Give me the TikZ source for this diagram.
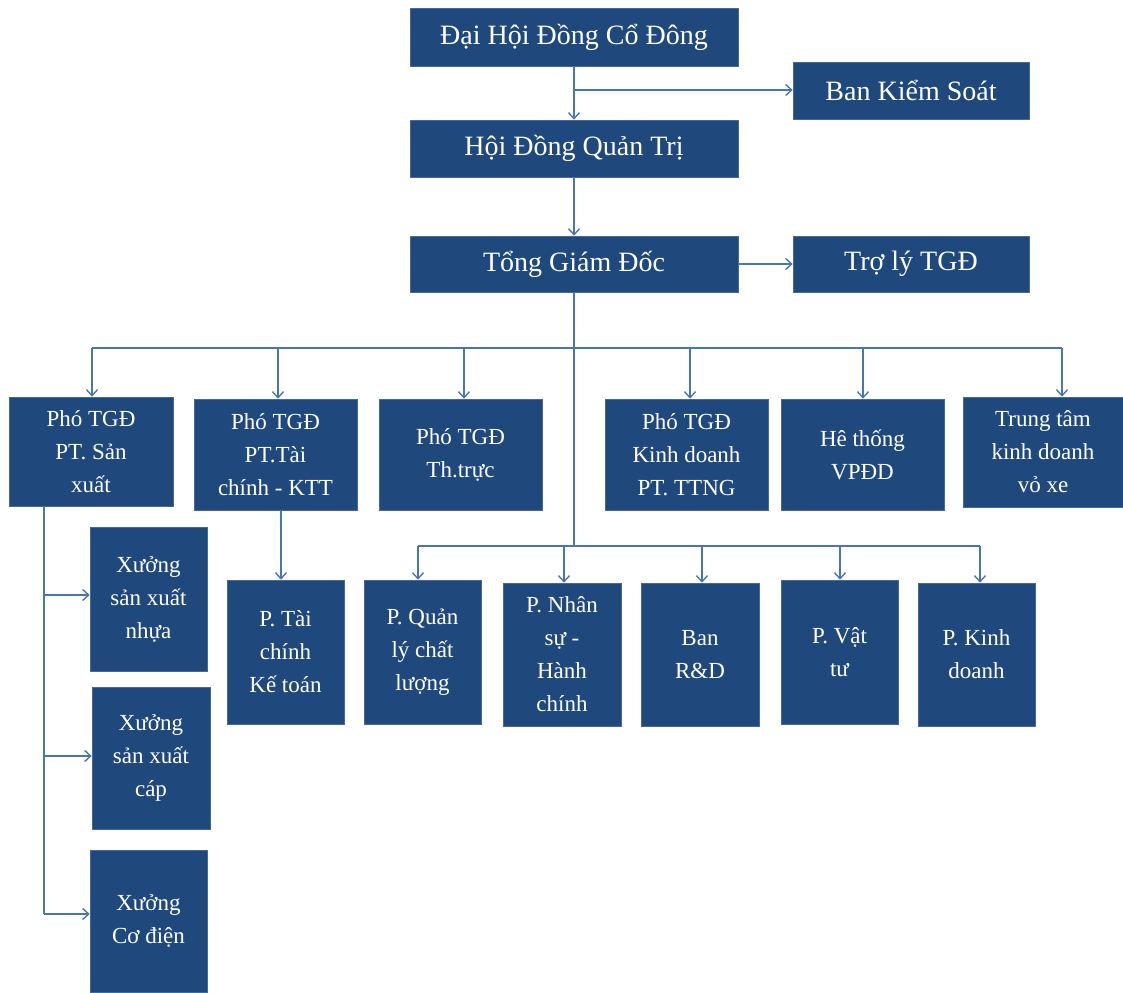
\documentclass[tikz,border=0pt]{standalone}
\usepackage{fontspec}
\setmainfont{Liberation Serif}
\usetikzlibrary{arrows.meta}
\definecolor{boxfill}{RGB}{31,73,125}
\definecolor{boxline}{RGB}{70,105,150}
\definecolor{conn}{RGB}{74,118,176}
\begin{document}
\begin{tikzpicture}[x=1pt,y=-1pt,
  bigbox/.style={fill=boxfill, draw=boxline, line width=0.6pt, text=white, font=\fontsize{28}{34}\selectfont, inner sep=0pt, align=center},
  smallbox/.style={fill=boxfill, draw=boxline, line width=0.6pt, text=white, font=\fontsize{23}{33}\selectfont, inner sep=0pt, align=center},
  ln/.style={draw=conn, line width=1.4pt},
  arr/.style={draw=conn, line width=1.4pt, -{Straight Barb[length=6pt,width=11pt]}}]
\useasboundingbox (0,0) rectangle (1123,992);
% top
\node[bigbox, minimum width=328pt, minimum height=58pt] (dh) at (574,37) {Đại Hội Đồng Cổ Đông};
\node[bigbox, minimum width=236pt, minimum height=57pt] (bks) at (911,90.5) {Ban Kiểm Soát};
\node[bigbox, minimum width=328pt, minimum height=57pt] (hdqt) at (574,148.5) {Hội Đồng Quản Trị};
\node[bigbox, minimum width=328pt, minimum height=56pt] (tgd) at (574,264) {Tổng Giám Đốc};
\node[bigbox, minimum width=236pt, minimum height=56pt] (tl) at (911,264) {Trợ lý TGĐ};
% row 2
\node[smallbox, minimum width=164pt, minimum height=109pt] (sx) at (91,451.5) {Phó TGĐ\\PT. Sản\\xuất};
\node[smallbox, minimum width=163pt, minimum height=111pt] (tc) at (275.5,454.5) {Phó TGĐ\\PT.Tài\\chính - KTT};
\node[smallbox, minimum width=163pt, minimum height=111pt] (tt) at (460.5,454.5) {Phó TGĐ\\Th.trực};
\node[smallbox, minimum width=163pt, minimum height=111pt] (kd) at (686.5,454.5) {Phó TGĐ\\Kinh doanh\\PT. TTNG};
\node[smallbox, minimum width=163pt, minimum height=111pt] (vp) at (862.5,454.5) {Hê thống\\VPĐD};
\node[smallbox, minimum width=160pt, minimum height=110pt] (tm) at (1043,452) {Trung tâm\\kinh doanh\\vỏ xe};
% row 3
\node[smallbox, minimum width=117pt, minimum height=144pt] (tckt) at (285.5,652) {P. Tài\\chính\\Kế toán};
\node[smallbox, minimum width=117pt, minimum height=144pt] (qlcl) at (422.5,652) {P. Quản\\lý chất\\lượng};
\node[smallbox, minimum width=118pt, minimum height=143pt] (ns) at (562,654.5) {P. Nhân\\sự -\\Hành\\chính};
\node[smallbox, minimum width=118pt, minimum height=143pt] (rd) at (700,654.5) {Ban\\R\&D};
\node[smallbox, minimum width=117pt, minimum height=144pt] (vt) at (839.5,652) {P. Vật\\tư};
\node[smallbox, minimum width=117pt, minimum height=143pt] (kdp) at (976.5,654.5) {P. Kinh\\doanh};
% xuong
\node[smallbox, minimum width=117pt, minimum height=144pt] (nhua) at (148.5,599) {Xưởng\\sản xuất\\nhựa};
\node[smallbox, minimum width=118pt, minimum height=142pt] (cap) at (151,758) {Xưởng\\sản xuất\\cáp};
\node[smallbox, minimum width=117pt, minimum height=142pt] (cd) at (148.5,921) {Xưởng\\Cơ điện};
% connectors top
\coordinate (j1) at (574,90);
\draw[arr] (dh.south) -- (hdqt.north);
\draw[arr] (j1) -- (bks.west |- j1);
\draw[arr] (hdqt.south) -- (tgd.north);
\draw[arr] (tgd.east) -- (tl.west);
% trunk
\coordinate (bus1) at (574,348);
\coordinate (bus2) at (574,546);
\draw[ln] (tgd.south) -- (bus2);
\coordinate (b1) at (92,348);
\coordinate (b2) at (278,348);
\coordinate (b3) at (464,348);
\coordinate (b4) at (690,348);
\coordinate (b5) at (863,348);
\coordinate (b6) at (1062,348);
\draw[ln] (b1) -- (b6);
\draw[arr] (b1) -- (b1 |- sx.north);
\draw[arr] (b2) -- (b2 |- tc.north);
\draw[arr] (b3) -- (b3 |- tt.north);
\draw[arr] (b4) -- (b4 |- kd.north);
\draw[arr] (b5) -- (b5 |- vp.north);
\draw[arr] (b6) -- (b6 |- tm.north);
% bus 2
\coordinate (c1) at (418,546);
\coordinate (c2) at (564,546);
\coordinate (c3) at (702,546);
\coordinate (c4) at (840,546);
\coordinate (c5) at (980,546);
\draw[ln] (c1) -- (c5);
\draw[arr] (c1) -- (c1 |- qlcl.north);
\draw[arr] (c2) -- (c2 |- ns.north);
\draw[arr] (c3) -- (c3 |- rd.north);
\draw[arr] (c4) -- (c4 |- vt.north);
\draw[arr] (c5) -- (c5 |- kdp.north);
% tai chinh
\coordinate (k1) at (281,0);
\draw[arr] (tc.south -| k1) -- (k1 |- tckt.north);
% left branch
\coordinate (l1) at (44,595);
\coordinate (l2) at (44,756);
\coordinate (l3) at (44,914);
\draw[ln] (sx.south -| l1) -- (l3);
\draw[arr] (l1) -- (l1 -| nhua.west);
\draw[arr] (l2) -- (l2 -| cap.west);
\draw[arr] (l3) -- (l3 -| cd.west);
\end{tikzpicture}
\end{document}
